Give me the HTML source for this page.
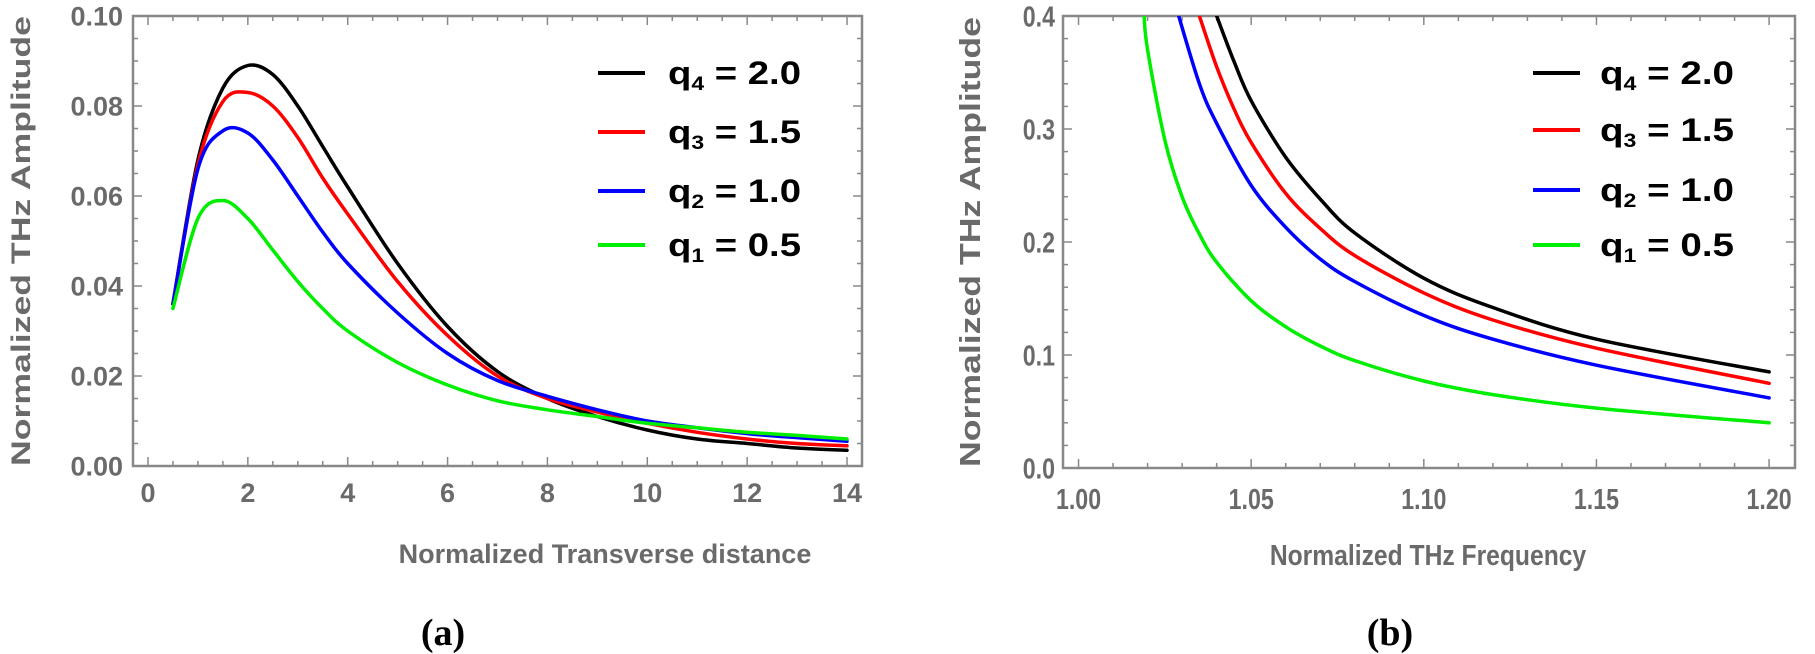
<!DOCTYPE html>
<html><head><meta charset="utf-8"><style>
html,body{margin:0;padding:0;background:#fff;}
svg{display:block;}
</style></head><body>
<svg id="fig" width="1815" height="654" xmlns="http://www.w3.org/2000/svg">
<g id="pa"></g>
<g id="pb"></g>
<text x="443" y="645" font-family="Liberation Serif, serif" font-weight="bold" font-size="38" text-anchor="middle">(a)</text>
<text x="1390" y="645" font-family="Liberation Serif, serif" font-weight="bold" font-size="38" text-anchor="middle">(b)</text>
</svg>
<script>
// Panel (a) data
const aX = [0.5,1,1.5,2,2.5,3,3.5,4,5,6,7,8,9,10,11,12,13,14];
const aQ4 = [0.036,0.068,0.084,0.089,0.087,0.080,0.071,0.062,0.045,0.031,0.021,0.015,0.011,0.008,0.006,0.005,0.004,0.0035];
const aQ3 = [0.036,0.067,0.081,0.083,0.080,0.073,0.064,0.056,0.041,0.029,0.020,0.015,0.012,0.0095,0.0075,0.006,0.005,0.0045];
const aQ2 = [0.036,0.066,0.0745,0.074,0.068,0.060,0.052,0.045,0.034,0.025,0.019,0.0155,0.0125,0.010,0.0085,0.0072,0.0063,0.0055];
const aQ1 = [0.035,0.055,0.059,0.055,0.048,0.041,0.035,0.030,0.023,0.018,0.0145,0.0125,0.011,0.0095,0.0085,0.0075,0.0068,0.006];
const aXTicks = ["0","2","4","6","8","10","12","14"];
const aYTicks = ["0.00","0.02","0.04","0.06","0.08","0.10"];
// Panel (b) data
const bQ4x = [1.040,1.045,1.05,1.06,1.07,1.08,1.10,1.12,1.15,1.20];
const bQ4 = [0.40,0.36,0.325,0.275,0.238,0.208,0.168,0.142,0.114,0.085];
const bQ3x = [1.035,1.04,1.045,1.05,1.06,1.07,1.08,1.10,1.12,1.15,1.20];
const bQ3 = [0.40,0.355,0.318,0.288,0.243,0.212,0.188,0.155,0.131,0.106,0.075];
const bQ2x = [1.029,1.035,1.04,1.05,1.06,1.07,1.08,1.10,1.12,1.15,1.20];
const bQ2 = [0.40,0.34,0.305,0.25,0.213,0.185,0.165,0.135,0.114,0.091,0.062];
const bQ1x = [1.019,1.02,1.025,1.03,1.035,1.04,1.05,1.06,1.07,1.08,1.10,1.12,1.15,1.20];
const bQ1 = [0.40,0.37,0.29,0.24,0.207,0.182,0.148,0.125,0.108,0.095,0.077,0.065,0.053,0.040];
const bXTicks = ["1.00","1.05","1.10","1.15","1.20"];
const bYTicks = ["0.0","0.1","0.2","0.3","0.4"];
const legendLabels = [["4","2.0"],["3","1.5"],["2","1.0"],["1","0.5"]];
const colors = ["#000","#f00","#00f","#0e0"];

const NS="http://www.w3.org/2000/svg";
function mk(parent,tag,attrs){const e=document.createElementNS(NS,tag);for(const k in attrs)e.setAttribute(k,attrs[k]);parent.appendChild(e);return e;}
function smooth(pts){let d="M"+pts[0][0].toFixed(1)+","+pts[0][1].toFixed(1);
 for(let i=0;i<pts.length-1;i++){const p0=pts[Math.max(0,i-1)],p1=pts[i],p2=pts[i+1],p3=pts[Math.min(pts.length-1,i+2)];
 const c1=[p1[0]+(p2[0]-p0[0])/6,p1[1]+(p2[1]-p0[1])/6],c2=[p2[0]-(p3[0]-p1[0])/6,p2[1]-(p3[1]-p1[1])/6];
 d+="C"+c1[0].toFixed(1)+","+c1[1].toFixed(1)+" "+c2[0].toFixed(1)+","+c2[1].toFixed(1)+" "+p2[0].toFixed(1)+","+p2[1].toFixed(1);}
 return d;}

function panel(g,cfg){
 const {L,R,T,B,x0,x1,y0,y1,xs,ys}=cfg;
 const sx=v=>L+(v-x0)/(x1-x0)*(R-L), sy=v=>B-(v-y0)/(y1-y0)*(B-T);
 const clipId=cfg.id+"clip";
 const defs=mk(g,"defs",{});const cp=mk(defs,"clipPath",{id:clipId});mk(cp,"rect",{x:L,y:T,width:R-L,height:B-T});
 const tg=mk(g,"g",{stroke:"#888","stroke-width":1.5});
 
 
 for(let v=cfg.xt0;v<=x1+1e-9;v+=cfg.xminor){const x=sx(v);const maj=Math.abs(Math.round((v-cfg.xt0)/cfg.xmajor)*cfg.xmajor-(v-cfg.xt0))<1e-9;const len=maj?9:5;
  mk(tg,"line",{x1:x,y1:B,x2:x,y2:B-len});mk(tg,"line",{x1:x,y1:T,x2:x,y2:T+len});}
 for(let v=y0;v<=y1+1e-9;v+=cfg.yminor){const y=sy(v);const maj=Math.abs(Math.round((v-y0)/cfg.ymajor)*cfg.ymajor-(v-y0))<1e-9;const len=maj?9:5;
  mk(tg,"line",{x1:L,y1:y,x2:L+len,y2:y});mk(tg,"line",{x1:R,y1:y,x2:R-len,y2:y});}
 const fr=mk(g,"rect",{x:L,y:T,width:R-L,height:B-T,fill:"none",stroke:"#888","stroke-width":2.5});
 
 
 const font=cfg.font;
 xs.labels.forEach((lab,i)=>{const t=mk(g,"text",{x:sx(xs.vals[i]),y:cfg.xlabY,"text-anchor":"middle","font-family":font,"font-weight":"bold","font-size":cfg.fs,fill:"#6a6a6a"});
  if(cfg.narrow){t.setAttribute("transform","translate("+sx(xs.vals[i])+",0) scale(0.8,1) translate("+(-sx(xs.vals[i]))+",0)");}
  t.textContent=lab;
  
  });
 ys.labels.forEach((lab,i)=>{const t=mk(g,"text",{x:cfg.ylabX,y:sy(ys.vals[i])+cfg.fs*0.36,"text-anchor":"end","font-family":font,"font-weight":"bold","font-size":cfg.fs,fill:"#6a6a6a"});
  if(cfg.narrow){t.setAttribute("transform","translate("+cfg.ylabX+",0) scale(0.8,1) translate("+(-cfg.ylabX)+",0)");}
  t.textContent=lab;
  
  });
 const xt=mk(g,"text",{x:cfg.xtitleX,y:cfg.xtitleY,"text-anchor":"middle","font-family":font,"font-weight":"bold","font-size":cfg.tfs,fill:"#6a6a6a"});
 if(cfg.narrow)xt.setAttribute("transform","translate("+cfg.xtitleX+",0) scale(0.85,1) translate("+(-cfg.xtitleX)+",0)");
 xt.textContent=cfg.xtitle;
 
 
 const yt=mk(g,"text",{x:0,y:0,"text-anchor":"middle","font-family":font,"font-weight":"bold","font-size":cfg.tfs,fill:"#6a6a6a",transform:"translate("+cfg.ytitleX+","+((T+B)/2)+") rotate(-90)",textLength:cfg.ytitleLen,lengthAdjust:"spacingAndGlyphs"});
 yt.textContent="Normalized THz Amplitude";
 
 
 const cg=mk(g,"g",{"clip-path":"url(#"+clipId+")"});
 cfg.series.forEach((s,i)=>{const pts=s.x.map((xv,j)=>[sx(xv),sy(s.y[j])]);
  const p=mk(cg,"path",{d:smooth(pts),fill:"none",stroke:colors[i],"stroke-width":3.5,"stroke-linecap":"round"});
  
  });
 legendLabels.forEach((lab,i)=>{const y=cfg.legY[i];
  const l=mk(g,"line",{x1:cfg.legL1,x2:cfg.legL2,y1:y,y2:y,stroke:colors[i],"stroke-width":4});
  
  
  const t=mk(g,"text",{x:cfg.legT,y:y+11,"font-family":"Liberation Sans, sans-serif","font-weight":"bold","font-size":cfg.lfs,fill:"#000",textLength:cfg.legLen,lengthAdjust:"spacingAndGlyphs"});
  t.innerHTML='q<tspan font-size="'+(cfg.lfs*0.6)+'" dy="6">'+lab[0]+'</tspan><tspan dy="-6"> = '+lab[1]+'</tspan>';
  
  });
}

panel(document.getElementById("pa"),{id:"pa",L:133,R:862,T:16,B:466,x0:-0.3,x1:14.3,y0:0,y1:0.1,
 xt0:0,xmajor:2,xminor:0.5,ymajor:0.02,yminor:0.005,
 xs:{labels:aXTicks,vals:aXTicks.map(Number)},ys:{labels:aYTicks,vals:aYTicks.map(Number)},
 font:"Liberation Sans, sans-serif",fs:27,tfs:27,xlabY:502,ylabX:123,xtitleX:605,xtitleY:563,xtitle:"Normalized Transverse distance",
 ytitleX:30,ytitleLen:450,narrow:false,
 series:[{x:aX,y:aQ4},{x:aX,y:aQ3},{x:aX,y:aQ2},{x:aX,y:aQ1}],
 legY:[73,132,191,245],legL1:598,legL2:645,legT:668,lfs:32,legLen:133});

panel(document.getElementById("pb"),{id:"pb",L:1063,R:1795,T:16,B:468,x0:0.9955,x1:1.2075,y0:0,y1:0.4,
 xt0:1.0,xmajor:0.05,xminor:0.01,ymajor:0.1,yminor:0.02,
 xs:{labels:bXTicks,vals:bXTicks.map(Number)},ys:{labels:bYTicks,vals:bYTicks.map(Number)},
 font:"Liberation Sans, sans-serif",fs:29,tfs:29,xlabY:509,ylabX:1055,xtitleX:1428,xtitleY:565,xtitle:"Normalized THz Frequency",
 ytitleX:980,ytitleLen:450,narrow:true,
 series:[{x:bQ4x,y:bQ4},{x:bQ3x,y:bQ3},{x:bQ2x,y:bQ2},{x:bQ1x,y:bQ1}],
 legY:[73,130,190,245],legL1:1533,legL2:1580,legT:1600,lfs:32,legLen:134});
</script>
</body></html>
